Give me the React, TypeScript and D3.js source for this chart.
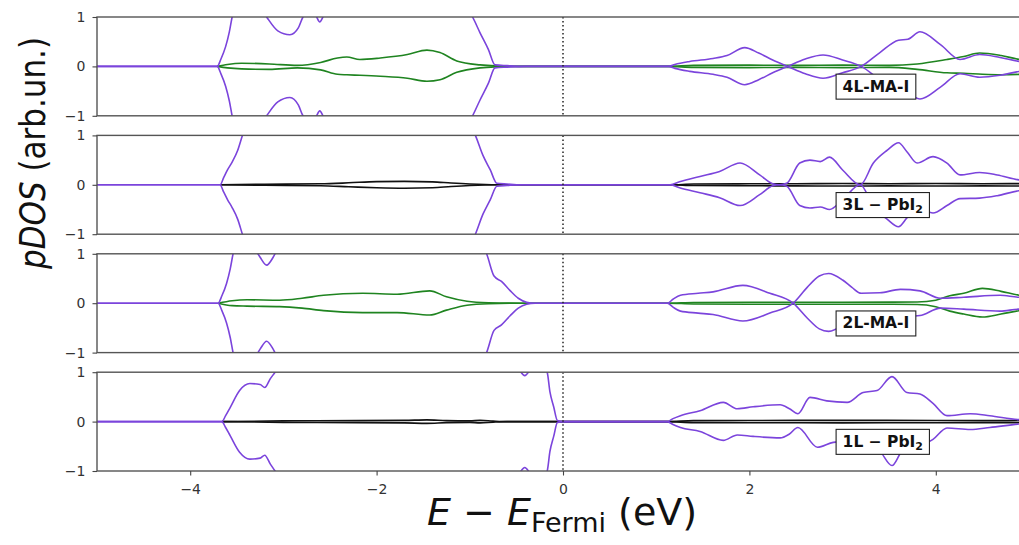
import React, { useEffect, useRef } from 'react';
import * as d3 from 'd3';

type Pt = [number, number];

// Energy axis ticks and pDOS ticks
const xTicks = [-4, -2, 0, 2, 4];
const yTicks = [-1, 0, 1];

// ---- 4L-MA-I ----
const tot4LUp: Pt[] = [[-5,0],[-3.71,0],[-3.67,0.15],[-3.62,0.4],[-3.58,0.7],[-3.55,1.0],[-3.48,1.4],[-3.3,1.35],[-3.18,1.0],[-3.06,0.72],[-2.93,0.64],[-2.84,0.78],[-2.79,1.0],[-2.71,1.12],[-2.65,1.02],[-2.61,0.9],[-2.57,1.02],[-2.45,1.4],[-2.0,2.0],[-1.4,2.0],[-1.1,1.4],[-0.97,1.0],[-0.89,0.68],[-0.8,0.34],[-0.73,0.03],[-0.6,0.015],[-0.4,0],[1.13,0],[1.2,0.04],[1.36,0.1],[1.61,0.16],[1.76,0.22],[1.95,0.38],[2.1,0.27],[2.25,0.13],[2.41,0],[2.6,-0.15],[2.79,-0.24],[3.0,-0.13],[3.2,0],[3.4,0.28],[3.6,0.53],[3.7,0.55],[3.83,0.7],[4.05,0.44],[4.26,0.14],[4.47,0.24],[4.69,0.18],[4.9,0.1],[5,0.08]];
const tot4LDn: Pt[] = [[-5,0],[-3.71,0],[-3.67,-0.15],[-3.62,-0.4],[-3.58,-0.7],[-3.55,-1.0],[-3.48,-1.4],[-3.3,-1.35],[-3.18,-1.0],[-3.06,-0.72],[-2.93,-0.63],[-2.84,-0.78],[-2.79,-1.0],[-2.71,-1.12],[-2.65,-1.02],[-2.61,-0.9],[-2.57,-1.02],[-2.45,-1.4],[-2.0,-2.0],[-1.4,-2.0],[-1.1,-1.4],[-0.97,-1.0],[-0.89,-0.68],[-0.8,-0.34],[-0.73,-0.03],[-0.6,-0.015],[-0.4,0],[1.13,0],[1.2,-0.04],[1.36,-0.1],[1.61,-0.16],[1.76,-0.22],[1.95,-0.37],[2.1,-0.27],[2.25,-0.13],[2.41,0],[2.6,0.15],[2.79,0.23],[3.0,0.13],[3.2,0],[3.4,-0.27],[3.6,-0.5],[3.7,-0.54],[3.83,-0.66],[4.05,-0.42],[4.26,-0.15],[4.47,-0.22],[4.69,-0.18],[4.9,-0.1],[5,-0.08]];
const ma4LUp: Pt[] = [[-3.71,0],[-3.6,0.04],[-3.45,0.065],[-3.15,0.05],[-2.85,0.02],[-2.6,0.08],[-2.42,0.17],[-2.32,0.19],[-2.18,0.14],[-1.96,0.17],[-1.67,0.24],[-1.46,0.33],[-1.32,0.28],[-1.14,0.11],[-0.89,0.03],[-0.73,0.01],[-0.4,0],[1.13,0],[1.4,0.02],[2,0.025],[2.5,0.02],[3,0.025],[3.5,0.02],[3.8,0.05],[4.12,0.14],[4.3,0.2],[4.47,0.27],[4.7,0.22],[4.9,0.14],[5,0.12]];
const ma4LDn: Pt[] = [[-3.71,0],[-3.6,-0.03],[-3.45,-0.05],[-3.15,-0.06],[-2.85,-0.03],[-2.6,-0.07],[-2.42,-0.16],[-2.32,-0.17],[-2.18,-0.18],[-1.96,-0.2],[-1.67,-0.24],[-1.46,-0.3],[-1.32,-0.27],[-1.14,-0.12],[-0.89,-0.03],[-0.73,-0.01],[-0.4,0],[1.13,0],[1.4,-0.02],[2,-0.025],[2.5,-0.02],[3,-0.025],[3.5,-0.02],[3.8,-0.06],[4.12,-0.13],[4.3,-0.14],[4.5,-0.16],[4.7,-0.17],[4.9,-0.16],[5,-0.15]];

// ---- 3L-PbI2 ----
const tot3LUp: Pt[] = [[-5,0],[-3.68,0],[-3.64,0.15],[-3.6,0.3],[-3.55,0.46],[-3.49,0.7],[-3.44,1.0],[-3.35,1.5],[-2.5,2.2],[-1.5,2.2],[-1.1,1.5],[-0.94,1.0],[-0.86,0.6],[-0.78,0.3],[-0.71,0.03],[-0.6,0.015],[-0.45,0],[1.15,0],[1.25,0.06],[1.47,0.17],[1.68,0.27],[1.9,0.44],[2.11,0.2],[2.25,0.02],[2.32,0],[2.4,0.03],[2.54,0.44],[2.65,0.5],[2.76,0.47],[2.86,0.56],[3.0,0.3],[3.19,0],[3.33,0.44],[3.48,0.7],[3.6,0.85],[3.69,0.67],[3.8,0.44],[3.97,0.57],[4.12,0.44],[4.26,0.2],[4.47,0.25],[4.66,0.2],[4.89,0.1],[5,0.08]];
const tot3LDn: Pt[] = [[-5,0],[-3.68,0],[-3.64,-0.15],[-3.6,-0.3],[-3.55,-0.46],[-3.49,-0.7],[-3.44,-1.0],[-3.35,-1.5],[-2.5,-2.2],[-1.5,-2.2],[-1.1,-1.5],[-0.94,-1.0],[-0.86,-0.6],[-0.78,-0.3],[-0.71,-0.03],[-0.6,-0.015],[-0.45,0],[1.15,0],[1.25,-0.06],[1.47,-0.16],[1.68,-0.26],[1.9,-0.42],[2.11,-0.2],[2.25,-0.02],[2.32,0],[2.4,-0.03],[2.54,-0.42],[2.65,-0.47],[2.76,-0.45],[2.86,-0.5],[3.0,-0.3],[3.19,0],[3.33,-0.44],[3.48,-0.7],[3.6,-0.85],[3.69,-0.67],[3.8,-0.45],[3.97,-0.57],[4.12,-0.42],[4.26,-0.28],[4.47,-0.27],[4.66,-0.22],[4.89,-0.12],[5,-0.1]];
const pb3LUp: Pt[] = [[-3.68,0],[-3.2,0.01],[-2.6,0.02],[-2.3,0.04],[-2.0,0.065],[-1.7,0.07],[-1.4,0.06],[-1.2,0.035],[-1.0,0.015],[-0.71,0],[1.15,0],[1.4,0.015],[2,0.02],[2.5,0.022],[3,0.025],[3.5,0.022],[4,0.025],[4.5,0.022],[5,0.025]];
const pb3LDn: Pt[] = [[-3.68,0],[-3.2,-0.01],[-2.6,-0.02],[-2.3,-0.04],[-2.0,-0.06],[-1.7,-0.07],[-1.4,-0.06],[-1.2,-0.035],[-1.0,-0.015],[-0.71,0],[1.15,0],[1.4,-0.015],[2,-0.02],[2.5,-0.022],[3,-0.025],[3.5,-0.022],[4,-0.025],[4.5,-0.022],[5,-0.025]];

// ---- 2L-MA-I ----
const tot2LUp: Pt[] = [[-5,0],[-3.7,0],[-3.66,0.15],[-3.61,0.4],[-3.57,0.7],[-3.54,1.0],[-3.45,1.4],[-3.32,1.15],[-3.25,0.93],[-3.18,0.77],[-3.11,0.93],[-3.04,1.2],[-2.5,2.0],[-1.5,2.0],[-1.0,1.4],[-0.82,1.0],[-0.74,0.55],[-0.66,0.44],[-0.57,0.26],[-0.48,0.1],[-0.39,0.02],[-0.3,0],[1.12,0],[1.18,0.08],[1.26,0.16],[1.45,0.2],[1.61,0.23],[1.93,0.36],[2.22,0.2],[2.47,0],[2.62,-0.3],[2.75,-0.52],[2.85,-0.57],[3.0,-0.45],[3.1,-0.3],[3.2,-0.2],[3.4,-0.21],[3.62,-0.28],[3.83,-0.25],[4.05,-0.1],[4.3,-0.12],[4.69,-0.16],[4.9,-0.12],[5,-0.12]];
const tot2LDn: Pt[] = [[-5,0],[-3.7,0],[-3.66,-0.15],[-3.61,-0.4],[-3.57,-0.7],[-3.54,-1.0],[-3.45,-1.4],[-3.32,-1.15],[-3.25,-0.93],[-3.18,-0.77],[-3.11,-0.93],[-3.04,-1.2],[-2.5,-2.0],[-1.5,-2.0],[-1.0,-1.4],[-0.82,-1.0],[-0.74,-0.55],[-0.66,-0.44],[-0.57,-0.26],[-0.48,-0.1],[-0.39,-0.02],[-0.3,0],[1.12,0],[1.18,-0.08],[1.26,-0.16],[1.45,-0.2],[1.61,-0.23],[1.93,-0.36],[2.22,-0.2],[2.47,0],[2.62,0.32],[2.75,0.55],[2.85,0.6],[3.0,0.47],[3.1,0.32],[3.2,0.2],[3.4,0.21],[3.62,0.28],[3.83,0.25],[4.05,0.1],[4.3,0.12],[4.69,0.16],[4.9,0.12],[5,0.12]];
const ma2LUp: Pt[] = [[-3.7,0],[-3.55,0.05],[-3.39,0.07],[-3.04,0.06],[-2.8,0.1],[-2.57,0.16],[-2.15,0.2],[-1.78,0.18],[-1.43,0.25],[-1.25,0.13],[-1.03,0.04],[-0.8,0.01],[-0.43,0],[1.12,0],[1.4,0.015],[2,0.02],[3,0.02],[3.8,0.025],[4.0,0.06],[4.15,0.15],[4.3,0.2],[4.5,0.3],[4.7,0.24],[4.9,0.16],[5,0.14]];
const ma2LDn: Pt[] = [[-3.7,0],[-3.55,-0.05],[-3.39,-0.06],[-3.04,-0.07],[-2.8,-0.1],[-2.57,-0.15],[-2.15,-0.19],[-1.78,-0.19],[-1.43,-0.24],[-1.25,-0.14],[-1.03,-0.04],[-0.8,-0.01],[-0.43,0],[1.12,0],[1.4,-0.015],[2,-0.02],[3,-0.02],[3.8,-0.025],[4.0,-0.07],[4.15,-0.16],[4.3,-0.22],[4.5,-0.28],[4.7,-0.22],[4.9,-0.15],[5,-0.13]];

// ---- 1L-PbI2 ----
const tot1LUp: Pt[] = [[-5,0],[-3.66,0],[-3.62,0.12],[-3.57,0.29],[-3.47,0.63],[-3.36,0.77],[-3.25,0.75],[-3.2,0.69],[-3.14,0.87],[-3.09,1.0],[-3.0,1.3],[-2.5,2.0],[-1.0,2.0],[-0.6,1.4],[-0.47,1.05],[-0.41,0.93],[-0.35,1.05],[-0.25,1.2],[-0.17,1.0],[-0.14,0.6],[-0.1,0.3],[-0.06,0.02],[0,0],[1.12,0],[1.18,0.06],[1.26,0.12],[1.47,0.22],[1.72,0.39],[1.87,0.26],[2.04,0.3],[2.33,0.34],[2.43,0.26],[2.52,0.16],[2.65,0.49],[2.83,0.42],[3.05,0.39],[3.22,0.59],[3.37,0.63],[3.53,0.91],[3.69,0.59],[3.83,0.56],[3.97,0.37],[4.12,0.12],[4.37,0.16],[4.58,0.12],[4.89,0.04],[5,0.03]];
const tot1LDn: Pt[] = [[-5,0],[-3.66,0],[-3.62,-0.12],[-3.57,-0.29],[-3.47,-0.62],[-3.36,-0.76],[-3.25,-0.74],[-3.2,-0.68],[-3.14,-0.86],[-3.09,-1.0],[-3.0,-1.3],[-2.5,-2.0],[-1.0,-2.0],[-0.6,-1.4],[-0.47,-1.05],[-0.41,-0.93],[-0.35,-1.05],[-0.25,-1.2],[-0.17,-1.0],[-0.14,-0.6],[-0.1,-0.3],[-0.06,-0.02],[0,0],[1.12,0],[1.18,-0.06],[1.26,-0.12],[1.47,-0.2],[1.72,-0.38],[1.87,-0.27],[2.04,-0.3],[2.33,-0.33],[2.43,-0.25],[2.52,-0.12],[2.73,-0.52],[2.9,-0.42],[3.05,-0.4],[3.22,-0.45],[3.4,-0.6],[3.53,-0.89],[3.64,-0.6],[3.83,-0.5],[3.97,-0.36],[4.12,-0.13],[4.37,-0.16],[4.58,-0.12],[4.89,-0.05],[5,-0.03]];
const pb1LUp: Pt[] = [[-3.66,0],[-3.0,0.015],[-2.2,0.02],[-1.7,0.025],[-1.46,0.035],[-1.25,0.02],[-1.0,0.015],[-0.89,0.025],[-0.75,0.01],[-0.6,0],[1.12,0],[1.4,0.02],[2,0.022],[3,0.025],[4,0.022],[4.5,0.02],[5,0.022]];
const pb1LDn: Pt[] = [[-3.66,0],[-3.0,-0.015],[-2.2,-0.02],[-1.7,-0.025],[-1.46,-0.035],[-1.25,-0.02],[-1.0,-0.015],[-0.89,-0.025],[-0.75,-0.01],[-0.6,0],[1.12,0],[1.4,-0.02],[2,-0.022],[3,-0.025],[4,-0.022],[4.5,-0.02],[5,-0.022]];

const PURPLE = '#7b44dc';
const GREEN = '#1f8420';
const BLACK = '#111111';

interface Panel {
  name: string;
  sub?: string;
  totUp: Pt[];
  totDn: Pt[];
  partUp: Pt[];
  partDn: Pt[];
  partColor: string;
}

const panels: Panel[] = [
  { name: '4L-MA-I', totUp: tot4LUp, totDn: tot4LDn, partUp: ma4LUp, partDn: ma4LDn, partColor: GREEN },
  { name: '3L \u2212 PbI', sub: '2', totUp: tot3LUp, totDn: tot3LDn, partUp: pb3LUp, partDn: pb3LDn, partColor: BLACK },
  { name: '2L-MA-I', totUp: tot2LUp, totDn: tot2LDn, partUp: ma2LUp, partDn: ma2LDn, partColor: GREEN },
  { name: '1L \u2212 PbI', sub: '2', totUp: tot1LUp, totDn: tot1LDn, partUp: pb1LUp, partDn: pb1LDn, partColor: BLACK },
];

const W = 1019;
const H = 545;
const LEFT = 97;
const RIGHT = 1029;
const TOP = 17;
const PANEL_H = 98.8;
const STEP = 118.4;
const FONT = 'DejaVu Sans, sans-serif';

export default function App() {
  const ref = useRef<SVGSVGElement>(null);

  useEffect(() => {
    const svg = d3.select(ref.current);
    svg.selectAll('*').remove();
    const x = d3.scaleLinear().domain([-5, 5]).range([LEFT, RIGHT]);

    panels.forEach((p, i) => {
      const top = TOP + i * STEP;
      const y = d3.scaleLinear().domain([-1, 1]).range([top + PANEL_H, top]);
      const g = svg.append('g');
      const clipId = `panel-clip-${i}`;
      svg.append('clipPath').attr('id', clipId)
        .append('rect').attr('x', LEFT).attr('y', top).attr('width', RIGHT - LEFT).attr('height', PANEL_H);

      const line = d3.line<Pt>().x(d => x(d[0])).y(d => y(d[1])).curve(d3.curveMonotoneX);
      const plot = g.append('g').attr('clip-path', `url(#${clipId})`);

      [p.partUp, p.partDn].forEach(s => {
        plot.append('path').attr('d', line(s) as string).attr('fill', 'none')
          .attr('stroke', p.partColor).attr('stroke-width', 1.6).attr('stroke-linejoin', 'round');
      });
      [p.totUp, p.totDn].forEach(s => {
        plot.append('path').attr('d', line(s) as string).attr('fill', 'none')
          .attr('stroke', PURPLE).attr('stroke-width', 1.6).attr('stroke-linejoin', 'round');
      });

      // Fermi level marker
      plot.append('line').attr('x1', x(0)).attr('x2', x(0)).attr('y1', top).attr('y2', top + PANEL_H)
        .attr('stroke', '#222').attr('stroke-width', 1.5).attr('stroke-dasharray', '1.5,2.5');

      // frame
      g.append('rect').attr('x', LEFT).attr('y', top).attr('width', RIGHT - LEFT).attr('height', PANEL_H)
        .attr('fill', 'none').attr('stroke', '#555').attr('stroke-width', 1.4);

      // y axis ticks
      const yAxis = d3.axisLeft(y).tickValues(yTicks).tickSize(4.5).tickPadding(7)
        .tickFormat(d3.format('d') as any);
      const ya = g.append('g').attr('transform', `translate(${LEFT},0)`).call(yAxis);
      ya.select('.domain').remove();
      ya.selectAll('line').attr('stroke', '#444').attr('stroke-width', 1.1);
      ya.selectAll('text').attr('font-family', FONT).attr('font-size', 14).attr('fill', '#333');

      if (i === panels.length - 1) {
        const xAxis = d3.axisBottom(x).tickValues(xTicks).tickSize(4.5).tickPadding(9)
          .tickFormat(d3.format('d') as any);
        const xa = g.append('g').attr('transform', `translate(0,${top + PANEL_H})`).call(xAxis);
        xa.select('.domain').remove();
        xa.selectAll('line').attr('stroke', '#444').attr('stroke-width', 1.1);
        xa.selectAll('text').attr('font-family', FONT).attr('font-size', 14).attr('fill', '#333');
      }

      // system label in a framed box
      const lg = g.append('g');
      const rect = lg.append('rect');
      const t = lg.append('text').attr('x', x(3.0)).attr('y', y(-0.41))
        .attr('dominant-baseline', 'central')
        .attr('font-family', FONT).attr('font-weight', 'bold').attr('font-size', 15.5).attr('fill', '#111');
      t.append('tspan').text(p.name);
      if (p.sub) {
        t.append('tspan').attr('font-size', 11).attr('dy', 4).text(p.sub);
      }
      const bb = (t.node() as SVGTextElement).getBBox();
      const cy = y(-0.41);
      rect.attr('x', bb.x - 6.5).attr('y', cy - 12.5).attr('width', bb.width + 13).attr('height', 25)
        .attr('fill', 'white').attr('stroke', '#222').attr('stroke-width', 1.1);
    });

    // axis titles
    const yl = svg.append('text').attr('transform', 'translate(45,153) rotate(-90)')
      .attr('text-anchor', 'middle').attr('font-family', FONT).attr('font-size', 36).attr('fill', '#111')
      .attr('textLength', 232).attr('lengthAdjust', 'spacingAndGlyphs');
    yl.append('tspan').attr('font-style', 'italic').text('pDOS');
    yl.append('tspan').text(' (arb.un.)');

    const xl = svg.append('text').attr('x', 562).attr('y', 525).attr('text-anchor', 'middle')
      .attr('font-family', FONT).attr('font-size', 38).attr('fill', '#111');
    xl.append('tspan').attr('font-style', 'italic').text('E');
    xl.append('tspan').text(' \u2212 ');
    xl.append('tspan').attr('font-style', 'italic').text('E');
    xl.append('tspan').attr('font-size', 27).attr('dy', 7).text('Fermi');
    xl.append('tspan').attr('dy', -7).text(' (eV)');
  }, []);

  return (
    <svg ref={ref} width={W} height={H}
      style={{ position: 'absolute', left: 0, top: 0, background: 'white', display: 'block' }} />
  );
}
